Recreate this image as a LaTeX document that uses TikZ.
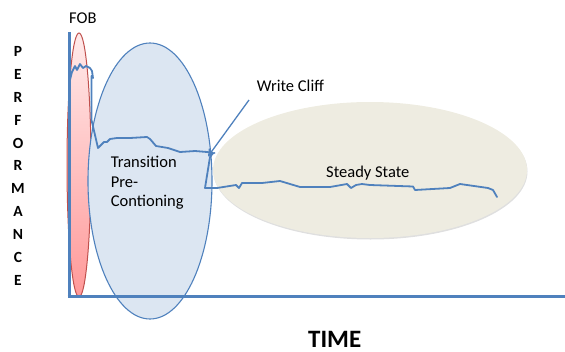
\documentclass[tikz,border=0pt]{standalone}
\usepackage{fontspec}
\setmainfont{Carlito}
\usetikzlibrary{positioning, arrows.meta, shadows}
\definecolor{axisblue}{HTML}{4F81BD}
\definecolor{fobred}{HTML}{C0504D}
\definecolor{transfill}{HTML}{DCE6F2}
\definecolor{steadyfill}{HTML}{EEECE1}
\tikzstyle{label} = [inner sep=0pt, font=\fontsize{16.5}{19.5}\selectfont]
\tikzstyle{perf} = [inner sep=0pt, font=\fontsize{15.5}{18}\bfseries]
\tikzstyle{axis} = [draw=axisblue, line width=3pt]
\tikzstyle{trace} = [draw=axisblue, line width=1.8pt, line join=round, line cap=round]

\begin{document}
\begin{tikzpicture}[x=1pt, y=-1pt]
\useasboundingbox (0,0) rectangle (565,351);
% phases
\path[fill=steadyfill, drop shadow={opacity=0.25, shadow xshift=0.5pt, shadow yshift=-1.5pt}]
	(370,170) ellipse (157 and 68);
\path[draw=fobred, line width=1pt, top color=red!8, bottom color=red!40]
	(79,165) ellipse (12 and 132);
\path[draw=axisblue, line width=1.1pt, fill=transfill]
	(150,181) ellipse (62 and 138);
% axes
\draw[axis] (69,32) -- (69,297.5);
\draw[axis] (67.5,296) -- (565,296);
% performance over time
\draw[trace] (70,80) -- (72,72) -- (75,66) -- (77,70) -- (80,64) -- (83,68) -- (86,66)
	-- (90,68) -- (92,71) -- (93,78) -- (91.5,76) -- (91.5,120) -- (98,148) -- (100,146)
	-- (104,142) -- (107,142) -- (110,139) -- (117,138) -- (130,138) -- (147,137)
	-- (150,139) -- (156,146) -- (168,148) -- (180,152) -- (195,151) -- (207,152)
	-- (213,153) -- (210,157) -- (205,188) -- (217,188) -- (236,185) -- (239,188)
	-- (242,183) -- (262,183) -- (280,181) -- (300,187) -- (330,187) -- (347,184)
	-- (351,188) -- (356,185) -- (362,184) -- (370,185) -- (413,186.5) -- (415,190)
	-- (450,188) -- (460,184) -- (488,188) -- (493,190) -- (497,197);
% labels
\node[label, anchor=base west] (fob) at (69,23.3) {FOB};
\node[label, anchor=base west] (cliff) at (256.7,91.7) {Write Cliff};
\node[label, anchor=north west, align=left] (trans) at (110.7,156) {Transition\\Pre-\\Contioning};
\node[label, anchor=base west] (steady) at (326,177) {Steady State};
\node[inner sep=0pt, anchor=base, font=\fontsize{25}{30}\bfseries] (time) at (334.7,347.3) {TIME};
\foreach \l [count=\i from 0] in {P,E,R,F,O,R,M,A,N,C,E}
	\node[perf] (p\i) at (18,51.7+22.83*\i) {\l};
% arrow to the cliff
\coordinate (cliffstart) at (249,100);
\coordinate (clifftip) at (208,156.5);
\draw[axisblue, line width=1.3pt, -{Straight Barb[length=6pt, width=7pt]}] (cliffstart) -- (clifftip);
\end{tikzpicture}
\end{document}
